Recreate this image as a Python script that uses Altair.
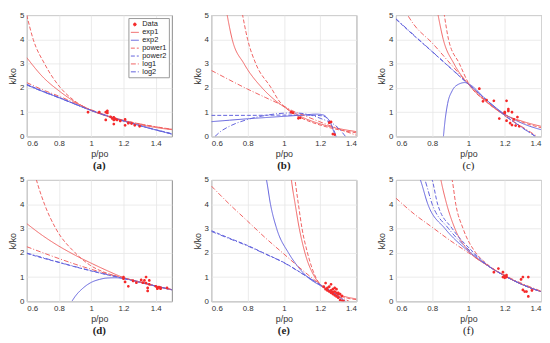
import altair as alt
import pandas as pd

SERIES = ["Data", "exp1", "exp2", "power1", "power2", "log1", "log2"]
RED = "#f06262"
BLUE = "#6262dc"
COLORS = ["#f52a2a", RED, BLUE, RED, BLUE, RED, BLUE]
DASHES = [[1, 0], [1, 0], [1, 0], [4, 2], [4, 2], [5, 2, 1, 2], [5, 2, 1, 2]]
DOT = "M-0.35,0A0.35,0.35,0,1,1,0.35,0A0.35,0.35,0,1,1,-0.35,0Z"
SHAPES = [DOT, "stroke", "stroke", "stroke", "stroke", "stroke", "stroke"]

X_TICKS = [0.6, 0.8, 1.0, 1.2, 1.4]
Y_TICKS = [0, 1, 2, 3, 4, 5]

# ---------------- panel (a) ----------------
A_DATA_X = [0.98, 1.05, 1.09, 1.10, 1.10, 1.09, 1.12, 1.13, 1.14, 1.14, 1.14, 1.15, 1.16, 1.18, 1.21, 1.21, 1.23, 1.25, 1.27, 1.30]
A_DATA_Y = [1.00, 1.00, 1.00, 0.97, 1.05, 0.68, 0.81, 0.74, 0.68, 0.79, 0.51, 0.72, 0.68, 0.64, 0.70, 0.46, 0.55, 0.53, 0.46, 0.42]
A_EXP1 = [(0.6, 3.25), (0.7, 2.45), (0.8, 1.88), (0.9, 1.42), (1.0, 1.08), (1.1, 0.83), (1.2, 0.64), (1.3, 0.49), (1.4, 0.37), (1.5, 0.28)]
A_EXP2 = [(0.6, 2.13), (0.7, 1.85), (0.8, 1.60), (0.9, 1.33), (1.0, 1.07), (1.1, 0.85), (1.2, 0.65), (1.3, 0.45), (1.4, 0.27), (1.5, 0.10)]
A_POWER1 = [(0.6, 5.0), (0.64, 4.0), (0.71, 3.0), (0.81, 2.0), (0.89, 1.5), (1.0, 1.07), (1.1, 0.84), (1.2, 0.66), (1.3, 0.52), (1.4, 0.40), (1.5, 0.30)]
A_POWER2 = [(0.6, 2.15), (0.7, 1.87), (0.8, 1.61), (0.9, 1.34), (1.0, 1.08), (1.1, 0.85), (1.2, 0.64), (1.3, 0.45), (1.4, 0.28), (1.5, 0.12)]
A_LOG1 = [(0.6, 2.22), (0.7, 1.92), (0.8, 1.66), (0.9, 1.38), (1.0, 1.10), (1.1, 0.86), (1.2, 0.67), (1.3, 0.52), (1.4, 0.40), (1.5, 0.29)]
A_LOG2 = [(0.6, 2.12), (0.7, 1.85), (0.8, 1.59), (0.9, 1.33), (1.0, 1.07), (1.1, 0.84), (1.2, 0.64), (1.3, 0.45), (1.4, 0.27), (1.5, 0.10)]

# ---------------- panel (b) ----------------
B_DATA_X = [1.04, 1.05, 1.08, 1.09, 1.25, 1.26, 1.27, 1.28]
B_DATA_Y = [1.00, 0.98, 0.75, 0.77, 0.57, 0.60, 0.10, 0.08]
B_EXP1 = [(0.68, 5.3), (0.715, 4.0), (0.78, 3.0), (0.88, 2.0), (0.95, 1.5), (1.05, 1.0), (1.1, 0.8), (1.2, 0.52), (1.3, 0.33), (1.4, 0.20)]
B_EXP2 = [(0.6, 0.61), (0.7, 0.67), (0.8, 0.73), (0.9, 0.78), (1.0, 0.83), (1.1, 0.88), (1.18, 0.92), (1.22, 0.88), (1.24, 0.75), (1.255, 0.60), (1.27, 0.30), (1.28, 0.10), (1.285, 0.0)]
B_POWER1 = [(0.765, 5.3), (0.8, 4.0), (0.845, 3.0), (0.93, 2.0), (0.97, 1.5), (1.04, 1.0), (1.1, 0.75), (1.2, 0.47), (1.3, 0.28), (1.4, 0.15)]
B_POWER2 = [(0.6, 0.87), (0.8, 0.87), (1.0, 0.88), (1.1, 0.88), (1.2, 0.86), (1.23, 0.80), (1.25, 0.65), (1.27, 0.35), (1.29, 0.0)]
B_LOG1 = [(0.6, 2.72), (0.7, 2.33), (0.8, 1.95), (0.9, 1.60), (1.0, 1.25), (1.05, 1.05), (1.1, 0.90), (1.2, 0.60), (1.3, 0.32), (1.4, 0.05)]
B_LOG2 = [(0.62, 0.0), (0.65, 0.2), (0.7, 0.42), (0.8, 0.70), (0.9, 0.87), (1.0, 0.96), (1.05, 0.97), (1.1, 0.95), (1.2, 0.75), (1.3, 0.35), (1.34, 0.0)]

# ---------------- panel (c) ----------------
C_DATA_X = [1.06, 1.08, 1.10, 1.14, 1.17, 1.20, 1.21, 1.20, 1.22, 1.22, 1.21, 1.23, 1.24, 1.24, 1.25, 1.26, 1.27, 1.28]
C_DATA_Y = [1.97, 1.45, 1.50, 1.47, 0.74, 1.00, 1.47, 0.97, 1.05, 1.13, 0.65, 0.55, 1.00, 0.47, 0.70, 0.45, 0.80, 0.42]
C_EXP1 = [(0.83, 5.1), (0.861, 4.0), (0.92, 3.0), (1.0, 2.15), (1.1, 1.42), (1.2, 0.90), (1.3, 0.62), (1.4, 0.42)]
C_EXP2 = [(0.862, 0.0), (0.87, 0.6), (0.885, 1.35), (0.91, 1.88), (0.945, 2.15), (0.98, 2.22), (1.0, 2.17), (1.1, 1.50), (1.2, 0.92), (1.3, 0.53), (1.4, 0.28)]
C_POWER1 = [(0.865, 5.1), (0.89, 4.0), (0.95, 3.0), (1.0, 2.2), (1.1, 1.42), (1.2, 0.90), (1.3, 0.58), (1.4, 0.36)]
C_POWER2 = [(0.6, 4.83), (0.7, 4.15), (0.8, 3.49), (0.9, 2.82), (1.0, 2.15), (1.1, 1.50), (1.2, 0.87), (1.3, 0.35), (1.37, 0.0)]
C_LOG1 = [(0.64, 5.3), (0.7, 4.6), (0.8, 3.85), (0.9, 3.0), (1.0, 2.17), (1.1, 1.45), (1.2, 0.85), (1.3, 0.38), (1.38, 0.0)]
C_LOG2 = [(0.6, 4.85), (0.7, 4.17), (0.8, 3.50), (0.9, 2.83), (1.0, 2.16), (1.1, 1.50), (1.2, 0.87), (1.3, 0.34), (1.37, 0.0)]

# ---------------- panel (d) ----------------
D_DATA_X = [1.20, 1.20, 1.21, 1.23, 1.26, 1.28, 1.31, 1.32, 1.33, 1.34, 1.34, 1.35, 1.35, 1.36, 1.36, 1.40, 1.41, 1.41, 1.42, 1.43, 1.43, 1.47]
D_DATA_Y = [1.00, 0.93, 0.80, 0.62, 0.84, 0.77, 0.88, 0.77, 0.86, 1.00, 0.75, 0.55, 0.43, 0.86, 0.70, 0.62, 0.55, 0.52, 0.58, 0.52, 0.55, 0.55]
D_EXP1 = [(0.6, 3.2), (0.7, 2.7), (0.8, 2.27), (0.9, 1.9), (1.0, 1.57), (1.1, 1.26), (1.2, 0.98), (1.3, 0.80), (1.4, 0.63), (1.5, 0.48)]
D_EXP2 = [(0.88, 0.0), (0.9, 0.2), (0.95, 0.55), (1.0, 0.78), (1.05, 0.90), (1.1, 0.96), (1.15, 0.97), (1.2, 0.94), (1.3, 0.80), (1.4, 0.63), (1.5, 0.48)]
D_POWER1 = [(0.64, 5.5), (0.66, 5.0), (0.71, 4.0), (0.78, 3.0), (0.9, 2.0), (0.99, 1.5), (1.1, 1.15), (1.2, 0.97), (1.3, 0.80), (1.4, 0.63), (1.5, 0.48)]
D_POWER2 = [(0.6, 1.97), (0.7, 1.78), (0.8, 1.60), (0.9, 1.42), (1.0, 1.25), (1.1, 1.09), (1.2, 0.94), (1.3, 0.78), (1.4, 0.62), (1.5, 0.47)]
D_LOG1 = [(0.6, 2.25), (0.7, 2.0), (0.8, 1.76), (0.9, 1.53), (1.0, 1.32), (1.1, 1.13), (1.2, 0.97), (1.3, 0.80), (1.4, 0.63), (1.5, 0.48)]
D_LOG2 = [(0.6, 1.99), (0.7, 1.80), (0.8, 1.61), (0.9, 1.43), (1.0, 1.26), (1.1, 1.10), (1.2, 0.95), (1.3, 0.79), (1.4, 0.63), (1.5, 0.48)]

# ---------------- panel (e) ----------------
E_DATA_X = [1.22, 1.23, 1.23, 1.24, 1.24, 1.25, 1.25, 1.26, 1.26, 1.26, 1.27, 1.27, 1.27, 1.28, 1.28, 1.28, 1.29, 1.29, 1.29, 1.30, 1.30, 1.30, 1.31, 1.31, 1.32, 1.32, 1.33]
E_DATA_Y = [0.60, 0.75, 0.50, 0.55, 0.45, 0.60, 0.40, 0.70, 0.35, 0.45, 0.50, 0.30, 0.38, 0.55, 0.25, 0.40, 0.35, 0.20, 0.50, 0.30, 0.15, 0.35, 0.05, 0.30, 0.02, 0.22, 0.0]
E_EXP1 = [(1.035, 5.4), (1.045, 4.8), (1.06, 4.1), (1.085, 3.0), (1.116, 2.0), (1.17, 1.0), (1.2, 0.70), (1.25, 0.45), (1.3, 0.28), (1.35, 0.17), (1.4, 0.10)]
E_EXP2 = [(0.895, 5.3), (0.904, 5.0), (0.926, 4.0), (0.96, 3.0), (1.025, 2.0), (1.07, 1.5), (1.13, 1.0), (1.2, 0.65), (1.3, 0.22), (1.34, 0.0)]
E_POWER1 = [(1.055, 5.4), (1.065, 4.8), (1.08, 4.0), (1.1, 3.0), (1.13, 2.0), (1.175, 1.0), (1.2, 0.70), (1.25, 0.42), (1.3, 0.25), (1.35, 0.13), (1.4, 0.07)]
E_POWER2 = [(0.6, 2.91), (0.7, 2.60), (0.8, 2.30), (0.9, 1.95), (1.0, 1.60), (1.1, 1.15), (1.2, 0.68), (1.3, 0.20), (1.33, 0.0)]
E_LOG1 = [(0.6, 4.75), (0.7, 4.0), (0.8, 3.3), (0.9, 2.6), (1.0, 1.95), (1.1, 1.30), (1.2, 0.70), (1.3, 0.22), (1.36, 0.0)]
E_LOG2 = [(0.6, 2.88), (0.7, 2.58), (0.8, 2.28), (0.9, 1.94), (1.0, 1.59), (1.1, 1.14), (1.2, 0.68), (1.3, 0.20), (1.33, 0.0)]

# ---------------- panel (f) ----------------
F_DATA_X = [1.14, 1.165, 1.19, 1.19, 1.20, 1.20, 1.21, 1.21, 1.29, 1.30, 1.30, 1.31, 1.32, 1.33, 1.33, 1.35]
F_DATA_Y = [1.20, 1.35, 1.20, 1.00, 1.05, 0.97, 1.00, 1.08, 0.90, 1.00, 0.47, 0.40, 0.40, 1.00, 0.20, 0.45]
F_EXP1 = [(0.84, 5.3), (0.848, 5.0), (0.88, 4.0), (0.925, 3.0), (1.01, 2.0), (1.1, 1.5), (1.2, 1.05), (1.3, 0.68), (1.4, 0.40)]
F_EXP2 = [(0.72, 5.3), (0.735, 5.0), (0.776, 4.0), (0.87, 3.0), (1.01, 2.0), (1.1, 1.5), (1.2, 1.05), (1.3, 0.68), (1.4, 0.40)]
F_POWER1 = [(0.9, 5.3), (0.91, 5.0), (0.93, 4.0), (0.97, 3.0), (1.04, 2.0), (1.1, 1.55), (1.2, 1.05), (1.3, 0.68), (1.4, 0.40)]
F_POWER2 = [(0.785, 5.3), (0.8, 5.0), (0.83, 4.0), (0.91, 3.0), (1.03, 2.0), (1.1, 1.52), (1.2, 1.05), (1.3, 0.68), (1.4, 0.40)]
F_LOG1 = [(0.6, 4.25), (0.7, 3.6), (0.8, 3.05), (0.9, 2.5), (1.0, 2.0), (1.1, 1.5), (1.2, 1.07), (1.3, 0.72), (1.4, 0.42)]
F_LOG2 = [(0.745, 5.3), (0.76, 5.0), (0.8, 4.0), (0.89, 3.0), (1.02, 2.0), (1.1, 1.5), (1.2, 1.05), (1.3, 0.68), (1.4, 0.40)]

W, H = 147, 123


def curves_df(curves):
    rows = []
    for name, pts in curves.items():
        for x, y in pts:
            rows.append({"x": x, "y": y, "series": name})
    return pd.DataFrame(rows)


def panel(curves, dx, dy, xmax, label, bold, legend):
    xs = alt.Scale(domain=[0.6, xmax], nice=False, zero=False)
    ys = alt.Scale(domain=[0, 5], nice=False)
    xax = alt.Axis(values=X_TICKS, format="~g", title="p/po", labelOverlap=False, labelSeparation=0)
    yax = alt.Axis(values=Y_TICKS, title="k/ko", labelOverlap=False, labelSeparation=0)
    if legend:
        leg = alt.Legend(orient="top-right", title=None, fillColor="white", strokeColor="#999999",
                         padding=2, offset=3, labelFontSize=7.5, labelFont="Liberation Sans",
                         labelColor="#222222", rowPadding=0, symbolSize=64, symbolStrokeWidth=1,
                         labelOffset=3, cornerRadius=0)
    else:
        leg = None
    color = alt.Color("series:N", scale=alt.Scale(domain=SERIES, range=COLORS), legend=leg)
    dash = alt.StrokeDash("series:N", scale=alt.Scale(domain=SERIES, range=DASHES), legend=leg)
    shape = alt.Shape("series:N", scale=alt.Scale(domain=SERIES, range=SHAPES), legend=leg)
    lines = alt.Chart(curves_df(curves)).mark_line(
        clip=True, interpolate="monotone", strokeWidth=1
    ).encode(
        x=alt.X("x:Q", scale=xs, axis=xax),
        y=alt.Y("y:Q", scale=ys, axis=yax),
        color=color,
        strokeDash=dash,
    )
    pts = alt.Chart(pd.DataFrame({"x": dx, "y": dy, "series": ["Data"] * len(dx)})).mark_point(
        filled=True, size=64, opacity=1, clip=True
    ).encode(
        x=alt.X("x:Q", scale=xs, axis=xax),
        y=alt.Y("y:Q", scale=ys, axis=yax),
        color=color, shape=shape,
    )
    return alt.layer(lines, pts).properties(
        width=W, height=H,
        title=alt.TitleParams(label, orient="bottom", font="Liberation Serif", fontSize=11,
                              fontWeight="bold" if bold else "normal", color="#222222", offset=2),
    )


pa = panel({"exp1": A_EXP1, "exp2": A_EXP2, "power1": A_POWER1, "power2": A_POWER2, "log1": A_LOG1, "log2": A_LOG2},
           A_DATA_X, A_DATA_Y, 1.5, "(a)", True, True)
pb = panel({"exp1": B_EXP1, "exp2": B_EXP2, "power1": B_POWER1, "power2": B_POWER2, "log1": B_LOG1, "log2": B_LOG2},
           B_DATA_X, B_DATA_Y, 1.4, "(b)", True, False)
pc = panel({"exp1": C_EXP1, "exp2": C_EXP2, "power1": C_POWER1, "power2": C_POWER2, "log1": C_LOG1, "log2": C_LOG2},
           C_DATA_X, C_DATA_Y, 1.4, "(c)", False, False)
pd_ = panel({"exp1": D_EXP1, "exp2": D_EXP2, "power1": D_POWER1, "power2": D_POWER2, "log1": D_LOG1, "log2": D_LOG2},
            D_DATA_X, D_DATA_Y, 1.5, "(d)", True, False)
pe = panel({"exp1": E_EXP1, "exp2": E_EXP2, "power1": E_POWER1, "power2": E_POWER2, "log1": E_LOG1, "log2": E_LOG2},
           E_DATA_X, E_DATA_Y, 1.4, "(e)", True, False)
pf = panel({"exp1": F_EXP1, "exp2": F_EXP2, "power1": F_POWER1, "power2": F_POWER2, "log1": F_LOG1, "log2": F_LOG2},
           F_DATA_X, F_DATA_Y, 1.4, "(f)", False, False)

ind = dict(color="independent", strokeDash="independent", shape="independent")
row1 = alt.hconcat(pa, pb, pc, spacing=20).resolve_legend(**ind)
row2 = alt.hconcat(pd_, pe, pf, spacing=20).resolve_legend(**ind)

chart = alt.vconcat(row1, row2, spacing=3).resolve_legend(**ind).properties(
    padding=0, background="white"
).configure_view(
    stroke="#8a8a8a", strokeWidth=1
).configure_axis(
    labelFont="Liberation Sans", labelFontSize=8, labelColor="#333333",
    titleFont="Liberation Sans", titleFontSize=9, titleFontWeight="normal", titleColor="#333333",
    gridColor="#e6e6e6", gridWidth=0.8, domain=False, tickSize=0, labelPadding=3, titlePadding=2,
    labelOverlap=False,
)

chart.save("out.html", embed_options={"renderer": "svg", "actions": False})
